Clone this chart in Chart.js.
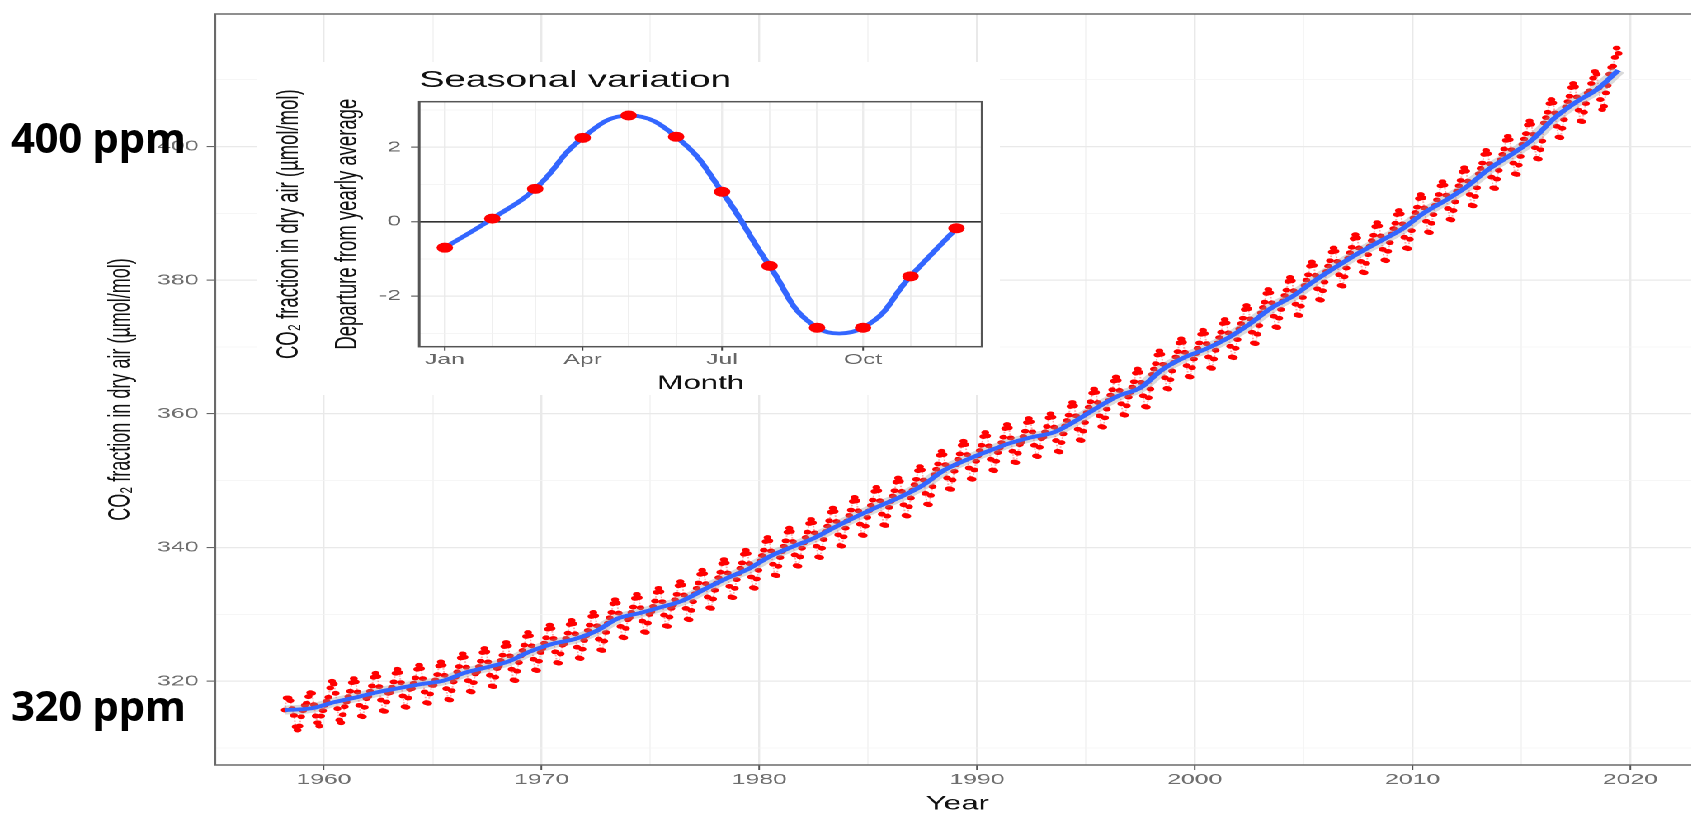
<!DOCTYPE html>
<html>
<head>
<meta charset="utf-8">
<title>Keeling curve</title>
<script src="https://cdn.jsdelivr.net/npm/chart.js@4.4.1/dist/chart.umd.min.js"></script>
<style>
  html, body { margin: 0; padding: 0; background: #fff; overflow: hidden; }
  /* the source figure is stretched sideways, so the whole plot is drawn narrow and widened */
  #stage { position: absolute; left: 0; top: 0; width: 1036px; height: 814px; transform: scaleX(1.65); transform-origin: 0 0; }
  #mainBox { position: absolute; left: 0; top: 0; width: 1036px; height: 814px; }
  #insetBox { position: absolute; left: 156.4px; top: 62px; width: 450px; height: 333px; background: #fff; }
  .ppm { position: absolute; left: 11px; font: bold 42px 'Open Sans', Lato, sans-serif; line-height: 40px; color: #000; white-space: nowrap; letter-spacing: -0.4px; }
</style>
</head>
<body>
<div id="stage">
  <div id="mainBox"><canvas id="mainChart"></canvas></div>
  <div id="insetBox"><canvas id="insetChart"></canvas></div>
</div>
<div class="ppm" style="top:117px">400 ppm</div>
<div class="ppm" style="top:685px">320 ppm</div>

<script>
// ---- data ----

const years = [1958, 1959, 1960, 1961, 1962, 1963, 1964, 1965, 1966, 1967,
  1968, 1969, 1970, 1971, 1972, 1973, 1974, 1975, 1976, 1977,
  1978, 1979, 1980, 1981, 1982, 1983, 1984, 1985, 1986, 1987,
  1988, 1989, 1990, 1991, 1992, 1993, 1994, 1995, 1996, 1997,
  1998, 1999, 2000, 2001, 2002, 2003, 2004, 2005, 2006, 2007,
  2008, 2009, 2010, 2011, 2012, 2013, 2014, 2015, 2016, 2017,
  2018, 2019];

// monthly CO2 (ppm), Jan..Dec, one row per year
const co2Monthly = [
  [null, null, 315.7, 317.5, 317.5, 317.1, 315.9, 314.9, 313.2, 312.7, 313.3, 314.7],
  [315.6, 316.4, 316.7, 317.7, 318.3, 318.2, 316.5, 314.8, 313.8, 313.3, 314.8, 315.6],
  [316.4, 317.0, 317.6, 319.0, 320.0, 319.6, 318.2, 315.9, 314.2, 313.8, 315.0, 316.2],
  [316.9, 317.7, 318.5, 319.8, 320.4, 319.9, 318.4, 316.4, 314.8, 314.7, 316.1, 317.4],
  [317.7, 318.5, 319.3, 320.6, 321.2, 320.7, 319.2, 317.2, 315.6, 315.5, 316.9, 318.2],
  [318.3, 319.1, 319.9, 321.2, 321.8, 321.3, 319.8, 317.8, 316.2, 316.1, 317.5, 318.8],
  [318.9, 319.7, 320.5, 321.8, 322.4, 321.9, 320.4, 318.4, 316.8, 316.7, 318.1, 319.4],
  [319.4, 320.2, 321.0, 322.3, 322.9, 322.4, 320.9, 318.9, 317.3, 317.2, 318.6, 319.9],
  [320.6, 321.4, 322.2, 323.5, 324.1, 323.6, 322.1, 320.1, 318.5, 318.4, 319.8, 321.1],
  [321.4, 322.2, 323.0, 324.3, 324.9, 324.4, 322.9, 320.9, 319.3, 319.2, 320.6, 321.9],
  [322.3, 323.1, 323.9, 325.2, 325.8, 325.3, 323.8, 321.8, 320.2, 320.1, 321.5, 322.8],
  [323.8, 324.6, 325.4, 326.7, 327.3, 326.8, 325.3, 323.3, 321.7, 321.6, 323.0, 324.3],
  [324.9, 325.7, 326.5, 327.8, 328.4, 327.9, 326.4, 324.4, 322.8, 322.7, 324.1, 325.4],
  [325.6, 326.4, 327.2, 328.5, 329.1, 328.6, 327.1, 325.1, 323.5, 323.4, 324.8, 326.1],
  [326.8, 327.6, 328.4, 329.7, 330.3, 329.8, 328.3, 326.3, 324.7, 324.6, 326.0, 327.3],
  [328.7, 329.5, 330.3, 331.6, 332.2, 331.7, 330.2, 328.2, 326.6, 326.5, 327.9, 329.2],
  [329.5, 330.3, 331.1, 332.4, 333.0, 332.5, 331.0, 329.0, 327.4, 327.3, 328.7, 330.0],
  [330.4, 331.2, 332.0, 333.3, 333.9, 333.4, 331.9, 329.9, 328.3, 328.2, 329.6, 330.9],
  [331.4, 332.2, 333.0, 334.3, 334.9, 334.4, 332.9, 330.9, 329.3, 329.2, 330.6, 331.9],
  [333.1, 333.9, 334.7, 336.0, 336.6, 336.1, 334.6, 332.6, 331.0, 330.9, 332.3, 333.6],
  [334.7, 335.5, 336.3, 337.6, 338.2, 337.7, 336.2, 334.2, 332.6, 332.5, 333.9, 335.2],
  [336.1, 336.9, 337.7, 339.0, 339.6, 339.1, 337.6, 335.6, 334.0, 333.9, 335.3, 336.6],
  [338.0, 338.8, 339.6, 340.9, 341.5, 341.0, 339.5, 337.5, 335.9, 335.8, 337.2, 338.5],
  [339.4, 340.2, 341.0, 342.3, 342.9, 342.4, 340.9, 338.9, 337.3, 337.2, 338.6, 339.9],
  [340.7, 341.5, 342.3, 343.6, 344.2, 343.7, 342.2, 340.2, 338.6, 338.5, 339.9, 341.2],
  [342.4, 343.2, 344.0, 345.3, 345.9, 345.4, 343.9, 341.9, 340.3, 340.2, 341.6, 342.9],
  [344.0, 344.8, 345.6, 346.9, 347.5, 347.0, 345.5, 343.5, 341.9, 341.8, 343.2, 344.5],
  [345.5, 346.3, 347.1, 348.4, 349.0, 348.5, 347.0, 345.0, 343.4, 343.3, 344.7, 346.0],
  [346.9, 347.7, 348.5, 349.8, 350.4, 349.9, 348.4, 346.4, 344.8, 344.7, 346.1, 347.4],
  [348.6, 349.4, 350.2, 351.5, 352.1, 351.6, 350.1, 348.1, 346.5, 346.4, 347.8, 349.1],
  [350.9, 351.7, 352.5, 353.8, 354.4, 353.9, 352.4, 350.4, 348.8, 348.7, 350.1, 351.4],
  [352.4, 353.2, 354.0, 355.3, 355.9, 355.4, 353.9, 351.9, 350.3, 350.2, 351.6, 352.9],
  [353.7, 354.5, 355.3, 356.6, 357.2, 356.7, 355.2, 353.2, 351.6, 351.5, 352.9, 354.2],
  [354.9, 355.7, 356.5, 357.8, 358.4, 357.9, 356.4, 354.4, 352.8, 352.7, 354.1, 355.4],
  [355.8, 356.6, 357.4, 358.7, 359.3, 358.8, 357.3, 355.3, 353.7, 353.6, 355.0, 356.3],
  [356.5, 357.3, 358.1, 359.4, 360.0, 359.5, 358.0, 356.0, 354.4, 354.3, 355.7, 357.0],
  [358.2, 359.0, 359.8, 361.1, 361.7, 361.2, 359.7, 357.7, 356.1, 356.0, 357.4, 358.7],
  [360.2, 361.0, 361.8, 363.1, 363.7, 363.2, 361.7, 359.7, 358.1, 358.0, 359.4, 360.7],
  [362.0, 362.8, 363.6, 364.9, 365.5, 365.0, 363.5, 361.5, 359.9, 359.8, 361.2, 362.5],
  [363.2, 364.0, 364.8, 366.1, 366.7, 366.2, 364.7, 362.7, 361.1, 361.0, 362.4, 363.7],
  [365.9, 366.7, 367.5, 368.8, 369.4, 368.9, 367.4, 365.4, 363.8, 363.7, 365.1, 366.4],
  [367.7, 368.5, 369.3, 370.6, 371.2, 370.7, 369.2, 367.2, 365.6, 365.5, 366.9, 368.2],
  [369.0, 369.8, 370.6, 371.9, 372.5, 372.0, 370.5, 368.5, 366.9, 366.8, 368.2, 369.5],
  [370.6, 371.4, 372.2, 373.5, 374.1, 373.6, 372.1, 370.1, 368.5, 368.4, 369.8, 371.1],
  [372.7, 373.5, 374.3, 375.6, 376.2, 375.7, 374.2, 372.2, 370.6, 370.5, 371.9, 373.2],
  [375.1, 375.9, 376.7, 378.0, 378.6, 378.1, 376.6, 374.6, 373.0, 372.9, 374.3, 375.6],
  [376.9, 377.7, 378.5, 379.8, 380.4, 379.9, 378.4, 376.4, 374.8, 374.7, 376.1, 377.4],
  [379.2, 380.0, 380.8, 382.1, 382.7, 382.2, 380.7, 378.7, 377.1, 377.0, 378.4, 379.7],
  [381.3, 382.1, 382.9, 384.2, 384.8, 384.3, 382.8, 380.8, 379.2, 379.1, 380.5, 381.8],
  [383.3, 384.1, 384.9, 386.2, 386.8, 386.3, 384.8, 382.8, 381.2, 381.1, 382.5, 383.8],
  [385.1, 385.9, 386.7, 388.0, 388.6, 388.1, 386.6, 384.6, 383.0, 382.9, 384.3, 385.6],
  [386.9, 387.7, 388.5, 389.8, 390.4, 389.9, 388.4, 386.4, 384.8, 384.7, 386.1, 387.4],
  [389.3, 390.1, 390.9, 392.2, 392.8, 392.3, 390.8, 388.8, 387.2, 387.1, 388.5, 389.8],
  [391.2, 392.0, 392.8, 394.1, 394.7, 394.2, 392.7, 390.7, 389.1, 389.0, 390.4, 391.7],
  [393.3, 394.1, 394.9, 396.2, 396.8, 396.3, 394.8, 392.8, 391.2, 391.1, 392.5, 393.8],
  [395.9, 396.7, 397.5, 398.8, 399.4, 398.9, 397.4, 395.4, 393.8, 393.7, 395.1, 396.4],
  [398.0, 398.8, 399.6, 400.9, 401.5, 401.0, 399.5, 397.5, 395.9, 395.8, 397.2, 398.5],
  [400.3, 401.1, 401.9, 403.2, 403.8, 403.3, 401.8, 399.8, 398.2, 398.1, 399.5, 400.8],
  [403.5, 404.3, 405.1, 406.4, 407.0, 406.5, 405.0, 403.0, 401.4, 401.3, 402.7, 404.0],
  [405.9, 406.7, 407.5, 408.8, 409.4, 408.9, 407.4, 405.4, 403.8, 403.7, 405.1, 406.4],
  [408.0, 408.3, 409.4, 410.2, 411.2, 410.8, 408.7, 407.0, 405.5, 406.0, 408.0, 409.1],
  [410.8, 411.8, 412.0, 413.3, 414.7, 413.9, null, null, null, null, null, null]
];

// smoothed trend (blue line)
const trendYears = [1958.2, 1958.9, 1959.5, 1960.5, 1961.5, 1962.5, 1963.5, 1964.5, 1965.5, 1966.5,
  1967.5, 1968.5, 1969.5, 1970.5, 1971.5, 1972.5, 1973.5, 1974.5, 1975.5, 1976.5,
  1977.5, 1978.5, 1979.5, 1980.5, 1981.5, 1982.5, 1983.5, 1984.5, 1985.5, 1986.5,
  1987.5, 1988.5, 1989.5, 1990.5, 1991.5, 1992.5, 1993.5, 1994.5, 1995.5, 1996.5,
  1997.5, 1998.5, 1999.5, 2000.5, 2001.5, 2002.5, 2003.5, 2004.5, 2005.5, 2006.5,
  2007.5, 2008.5, 2009.5, 2010.5, 2011.5, 2012.5, 2013.5, 2014.5, 2015.5, 2016.5,
  2017.5, 2018.5, 2019.45];
const trendValues = [315.7, 315.8, 316.0, 316.9, 317.6, 318.4, 319.0, 319.6, 320.1, 321.3,
  322.1, 323.0, 324.5, 325.6, 326.3, 327.5, 329.4, 330.2, 331.1, 332.1,
  333.8, 335.4, 336.8, 338.7, 340.1, 341.4, 343.1, 344.7, 346.2, 347.6,
  349.3, 351.6, 353.1, 354.4, 355.6, 356.5, 357.2, 358.9, 360.9, 362.7,
  363.9, 366.6, 368.4, 369.7, 371.3, 373.4, 375.8, 377.6, 379.9, 382.0,
  384.0, 385.8, 387.6, 390.0, 391.9, 394.0, 396.6, 398.7, 401.0, 404.2,
  406.6, 408.6, 411.4];

const yearTicks = [1960, 1965, 1970, 1975, 1980, 1985, 1990, 1995, 2000, 2005, 2010, 2015, 2020];
const yearLabels = [1960, 1970, 1980, 1990, 2000, 2010, 2020];
const ppmTicks = [310, 320, 330, 340, 350, 360, 370, 380, 390, 400, 410];
const ppmLabels = [320, 340, 360, 380, 400];

// inset: seasonal departure from the yearly average
const monthNames = ['Jan', 'Feb', 'Mar', 'Apr', 'May', 'Jun', 'Jul', 'Aug', 'Sep', 'Oct', 'Nov', 'Dec'];
const monthStartDay = [0, 31, 59, 90, 120, 151, 181, 212, 243, 273, 304, 334];
const seasonalDeparture = [-0.70, 0.08, 0.88, 2.25, 2.85, 2.28, 0.80, -1.19, -2.85, -2.85, -1.47, -0.18];
const seasonTicks = [-3, -2, -1, 0, 1, 2, 3];
const seasonLabels = [-2, 0, 2];
const seasonMonthLabels = ['Jan', 'Apr', 'Jul', 'Oct'];

// ---- drawing ----

Chart.defaults.font.family = "'Liberation Sans', Arial, Helvetica, sans-serif";
Chart.defaults.animation = false;

const has = (list, v) => list.some(t => Math.abs(t - v) < 1e-6);
const tickVal = c => (c.tick ? c.tick.value : NaN);
const isNamedMonth = v => seasonMonthLabels.includes(monthNames[monthStartDay.indexOf(v)]);

const panelBorder = {
    id: 'panelBorder',
    afterDraw(chart, args, opts) {
        const { ctx, chartArea: a } = chart;
        ctx.save();
        ctx.strokeStyle = opts.color;
        ctx.lineWidth = opts.width;
        ctx.strokeRect(a.left, a.top, a.right - a.left, a.bottom - a.top);
        ctx.restore();
    }
};

const insetTitle = {
    id: 'insetTitle',
    afterDraw(chart, args, opts) {
        if (!opts.text) return;
        const { ctx, chartArea } = chart;
        ctx.save();
        ctx.font = opts.font;
        ctx.fillStyle = opts.color;
        ctx.textBaseline = 'alphabetic';
        ctx.fillText(opts.text, chartArea.left, opts.baseline);
        ctx.restore();
    }
};

const monthlyPoints = [];
co2Monthly.forEach((row, i) => {
    row.forEach((v, m) => {
        if (v !== null) monthlyPoints.push({ x: years[i] + (m + 0.5) / 12, y: v });
    });
});
const trendPoints = trendYears.map((x, i) => ({ x, y: trendValues[i] }));

const tickFont = { size: 15 };
const titleFont = { size: 18 };

new Chart(document.getElementById('mainChart'), {
    type: 'line',
    data: {
        datasets: [
            {
                data: trendPoints,
                borderColor: '#3366ff',
                borderWidth: 3.8,
                pointRadius: 0,
                cubicInterpolationMode: 'monotone'
            },
            {
                data: trendPoints,
                borderColor: 'rgba(150,150,150,0.35)',
                borderWidth: 9,
                pointRadius: 0,
                cubicInterpolationMode: 'monotone'
            },
            {
                data: monthlyPoints,
                borderColor: 'rgba(255,60,60,0.45)',
                borderWidth: 1,
                borderDash: [1.5, 1.5],
                pointRadius: 2.4,
                pointBackgroundColor: '#ff0000',
                pointBorderWidth: 0,
                tension: 0
            }
        ]
    },
    options: {
        responsive: true,
        maintainAspectRatio: false,
        devicePixelRatio: 2,
        events: [],
        layout: { padding: { top: 9, right: 5.7, bottom: 0, left: 0 } },
        plugins: {
            legend: { display: false },
            tooltip: { enabled: false },
            panelBorder: { color: '#6a6a6a', width: 1.5 }
        },
        scales: {
            x: {
                type: 'linear',
                bounds: 'data',
                min: 1955.0,
                max: 2023.2,
                afterBuildTicks: s => { s.ticks = yearTicks.map(v => ({ value: v })); },
                afterFit: s => { s.height = 49; },
                border: { display: false },
                grid: {
                    color: c => has(yearLabels, tickVal(c)) ? '#e9e9e9' : '#f3f3f3',
                    lineWidth: c => has(yearLabels, tickVal(c)) ? 1.2 : 0.8,
                    tickColor: c => has(yearLabels, tickVal(c)) ? '#555' : 'rgba(0,0,0,0)',
                    tickLength: 5,
                    tickWidth: 1
                },
                ticks: {
                    autoSkip: false,
                    maxRotation: 0,
                    padding: 1,
                    color: '#6e6e6e',
                    font: tickFont,
                    callback: v => has(yearLabels, v) ? String(v) : ''
                },
                title: { display: true, text: 'Year', color: '#111', font: { size: 19 }, padding: { top: 0, bottom: -1.5 } }
            },
            y: {
                type: 'linear',
                bounds: 'data',
                min: 307.48,
                max: 419.8,
                afterBuildTicks: s => { s.ticks = ppmTicks.map(v => ({ value: v })); },
                afterFit: s => { s.width = 130.3; },
                border: { display: false },
                grid: {
                    color: c => has(ppmLabels, tickVal(c)) ? '#e9e9e9' : '#f3f3f3',
                    lineWidth: c => has(ppmLabels, tickVal(c)) ? 1.2 : 0.8,
                    tickColor: c => has(ppmLabels, tickVal(c)) ? '#555' : 'rgba(0,0,0,0)',
                    tickLength: 5,
                    tickWidth: 1
                },
                ticks: {
                    autoSkip: false,
                    padding: 5,
                    color: '#6e6e6e',
                    font: tickFont,
                    callback: v => has(ppmLabels, v) ? String(v) : ''
                },
                title: {
                    display: true,
                    text: 'CO\u2082 fraction in dry air (\u00b5mol/mol)',
                    color: '#111',
                    font: titleFont,
                    padding: { top: 62.5, bottom: 0 }
                }
            }
        }
    },
    plugins: [panelBorder]
});

new Chart(document.getElementById('insetChart'), {
    type: 'line',
    data: {
        datasets: [{
            data: monthStartDay.map((d, i) => ({ x: d, y: seasonalDeparture[i] })),
            borderColor: '#3366ff',
            borderWidth: 3.8,
            tension: 0.45,
            pointRadius: 5,
            pointBackgroundColor: '#ff0000',
            pointBorderWidth: 0
        }]
    },
    options: {
        responsive: true,
        maintainAspectRatio: false,
        devicePixelRatio: 2,
        events: [],
        layout: { padding: { top: 39.7, right: 10.8, bottom: 0, left: 0 } },
        plugins: {
            legend: { display: false },
            tooltip: { enabled: false },
            panelBorder: { color: '#555', width: 1.5 },
            insetTitle: {
                text: 'Seasonal variation',
                font: "23px 'Liberation Sans', Arial, sans-serif",
                color: '#111',
                baseline: 25
            }
        },
        scales: {
            x: {
                type: 'linear',
                bounds: 'data',
                min: -16.7,
                max: 350.7,
                afterBuildTicks: s => { s.ticks = monthStartDay.map(v => ({ value: v })); },
                afterFit: s => { s.height = 48.3; },
                border: { display: false },
                grid: {
                    color: '#ececec',
                    lineWidth: c => isNamedMonth(tickVal(c)) ? 1.2 : 0.8,
                    tickColor: c => isNamedMonth(tickVal(c)) ? '#444' : 'rgba(0,0,0,0)',
                    tickLength: 4,
                    tickWidth: 1
                },
                ticks: {
                    autoSkip: false,
                    maxRotation: 0,
                    padding: 0.3,
                    color: '#666',
                    font: { size: 15 },
                    callback: v => isNamedMonth(v) ? monthNames[monthStartDay.indexOf(v)] : ''
                },
                title: { display: true, text: 'Month', color: '#111', font: { size: 19 }, padding: { top: 0, bottom: 0 } }
            },
            y: {
                type: 'linear',
                bounds: 'data',
                min: -3.36,
                max: 3.22,
                afterBuildTicks: s => { s.ticks = seasonTicks.map(v => ({ value: v })); },
                afterFit: s => { s.width = 98.1; },
                border: { display: false },
                grid: {
                    color: c => tickVal(c) === 0 ? '#333' : (has(seasonLabels, tickVal(c)) ? '#e9e9e9' : '#f2f2f2'),
                    lineWidth: c => tickVal(c) === 0 ? 1.6 : (has(seasonLabels, tickVal(c)) ? 1.2 : 0.8),
                    tickColor: c => has(seasonLabels, tickVal(c)) ? '#444' : 'rgba(0,0,0,0)',
                    tickLength: 5,
                    tickWidth: 1
                },
                ticks: {
                    autoSkip: false,
                    padding: 6,
                    color: '#666',
                    font: { size: 15 },
                    callback: v => has(seasonLabels, v) ? String(v) : ''
                },
                title: {
                    display: true,
                    text: ['CO\u2082 fraction in dry air (\u00b5mol/mol)', 'Departure from yearly average'],
                    color: '#111',
                    font: { size: 18.5, lineHeight: 1.93 },
                    padding: { top: 1.55, bottom: 0 }
                }
            }
        }
    },
    plugins: [panelBorder, insetTitle]
});
</script>
</body>
</html>
